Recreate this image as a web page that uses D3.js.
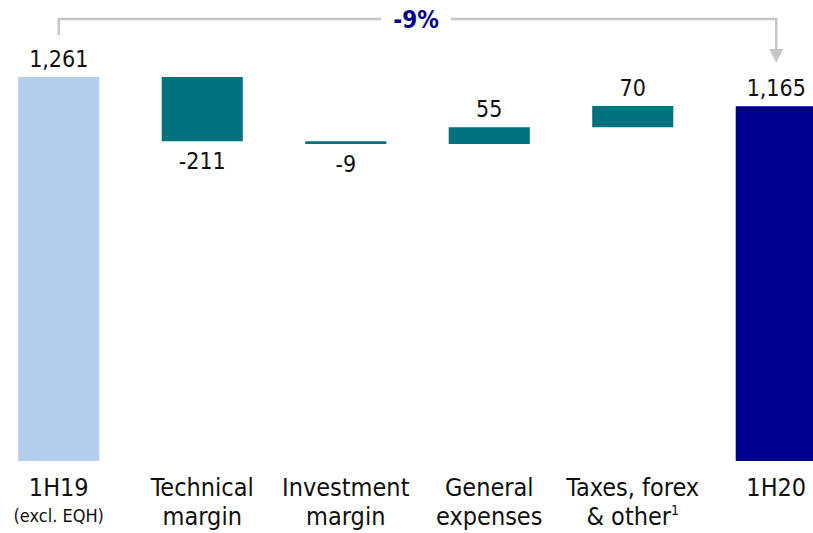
<!DOCTYPE html>
<html>
<head>
<meta charset="utf-8">
<script src="https://cdn.jsdelivr.net/npm/d3@7"></script>
<style>
  body { margin: 0; background: #fff; }
  text { font-family: "Liberation Sans Narrow", "DejaVu Sans Condensed", sans-serif; }
</style>
</head>
<body>
<div id="chart"></div>
<script>
// chart data
const categories = ["1H19", "Technical margin", "Investment margin", "General expenses", "Taxes, forex & other", "1H20"];
const labelLine1 = ["1H19", "Technical", "Investment", "General", "Taxes, forex", "1H20"];
const labelLine2 = ["(excl. EQH)", "margin", "margin", "expenses", "& other", ""];
const values = [1261, -211, -9, 55, 70, 1165];
const kinds = ["total", "delta", "delta", "delta", "delta", "total"];
const changeLabel = "-9%";

const width = 813, height = 533;
const baseY = 461;

const svg = d3.select("#chart").append("svg")
  .attr("width", width)
  .attr("height", height);

// build waterfall steps
let running = 0;
const steps = categories.map((c, i) => {
  let start, end;
  if (kinds[i] == "total") { start = 0; end = values[i]; running = values[i]; }
  else { start = running; end = running + values[i]; running = end; }
  return {cat: c, value: values[i], kind: kinds[i], start: start, end: end, i: i};
});

let x = d3.scaleBand()
  .domain(categories)
  .range([-13, 848])
  .paddingInner(0.435)
  .paddingOuter(0.2175);

let y = d3.scaleLinear()
  .domain([0, 1261])
  .range([baseY, 77]);

const colour = (d) => d.kind == "total" ? (d.i == 0 ? "#b4cfee" : "#00008f") : "#00737e";
const fmt = v => d3.format(",")(v).replace("\u2212", "-");

// bars
svg.selectAll("rect.bar")
  .data(steps)
  .enter()
  .append("rect")
  .attr("class", "bar")
  .attr("x", d => x(d.cat))
  .attr("width", x.bandwidth())
  .attr("y", d => y(Math.max(d.start, d.end)))
  .attr("height", d => Math.max(2.5, Math.abs(y(d.start) - y(d.end))))
  .style("fill", colour);

// value labels
svg.selectAll("text.valueLabel")
  .data(steps)
  .enter()
  .append("text")
  .attr("class", "valueLabel")
  .attr("x", d => x(d.cat) + x.bandwidth() / 2)
  .attr("y", d => d.value < 0 ? y(Math.min(d.start, d.end)) + 28 : y(Math.max(d.start, d.end)) - 10)
  .style("text-anchor", "middle")
  .style("font-size", "23px")
  .style("fill", "#111")
  .text(d => fmt(d.value));

// category labels
const catG = svg.selectAll("g.cat")
  .data(steps)
  .enter()
  .append("g")
  .attr("class", "cat")
  .attr("transform", d => `translate(${x(d.cat) + x.bandwidth() / 2},0)`);

catG.append("text")
  .attr("y", 496)
  .style("text-anchor", "middle")
  .style("font-size", "25px")
  .style("fill", "#111")
  .text(d => labelLine1[d.i]);

catG.append("text")
  .attr("y", d => d.i == 0 ? 522 : 525)
  .style("text-anchor", "middle")
  .style("font-size", d => d.i == 0 ? "18px" : "25px")
  .style("fill", "#111")
  .text(d => labelLine2[d.i])
  .filter(d => d.i == 4)
  .append("tspan")
  .attr("dy", -10)
  .style("font-size", "14px")
  .text("1");

// change bracket on top
const x0 = x(categories[0]) + x.bandwidth() / 2;
const x1 = x(categories[5]) + x.bandwidth() / 2;
const topY = 19;
const gap = [381, 451];

svg.append("path")
  .attr("d", `M${x0},35 V${topY} H${gap[0]} M${gap[1]},${topY} H${x1} V52`)
  .style("fill", "none")
  .style("stroke", "#c6c6c6")
  .style("stroke-width", 2.5);

svg.append("path")
  .attr("d", `M${x1 - 7},49 L${x1 + 7},49 L${x1},63 Z`)
  .style("fill", "#c6c6c6");

svg.append("text")
  .attr("x", (gap[0] + gap[1]) / 2)
  .attr("y", 28)
  .style("text-anchor", "middle")
  .style("font-size", "24px")
  .style("font-weight", "bold")
  .style("fill", "#00008f")
  .text(changeLabel);
</script>
</body>
</html>
